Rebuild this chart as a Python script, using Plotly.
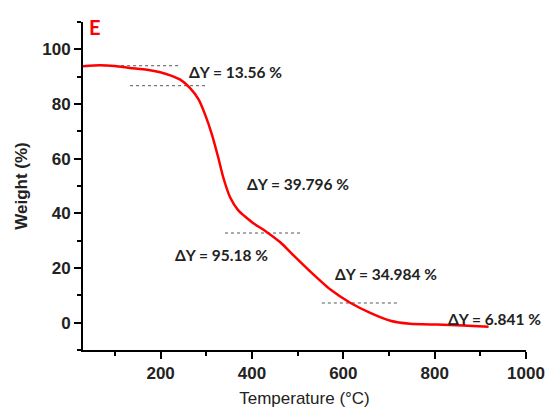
import plotly.graph_objects as go

# TGA curve
temperature = [30, 67, 100, 133, 170, 199, 221, 243, 264, 283, 297, 312, 326, 337, 352, 370, 388, 403, 432, 462, 491, 527, 571, 615, 659, 703, 746, 805, 862, 918]
weight = [93.8, 94.2, 93.9, 93.2, 92.5, 91.6, 90.5, 88.9, 85.9, 81.7, 76.3, 69.0, 60.5, 53.2, 45.9, 41.1, 38.4, 36.4, 33.2, 29.4, 24.6, 18.8, 12.2, 7.3, 3.6, 0.7, -0.4, -0.7, -1.0, -1.5]

# dotted step-reference lines: level, x start, x end
ref_levels = [94.0, 86.7, 32.8, 7.2]
ref_x0 = [74, 133, 341, 553]
ref_x1 = [242, 304, 509, 723]

# step labels
label_texts = ["ΔY = 13.56 %", "ΔY = 39.796 %", "ΔY = 95.18 %", "ΔY = 34.984 %", "ΔY = 6.841 %"]
label_x = [365, 501, 334, 694, 932]
label_y = [91.6, 50.9, 24.7, 17.8, 1.5]

x_ticks = [200, 400, 600, 800, 1000]
y_ticks = [0, 20, 40, 60, 80, 100]

fig = go.Figure()
for lv, a, b in zip(ref_levels, ref_x0, ref_x1):
    fig.add_trace(go.Scatter(x=[a, b], y=[lv, lv], mode="lines",
                             line=dict(color="#555555", width=1, dash="dot"),
                             showlegend=False, hoverinfo="skip"))
fig.add_trace(go.Scatter(x=temperature, y=weight, mode="lines",
                         line=dict(color="#ff0000", width=2.5, shape="spline", smoothing=0.6),
                         showlegend=False))

for t, x, y in zip(label_texts, label_x, label_y):
    fig.add_annotation(x=x, y=y, text="<b>" + t + "</b>", showarrow=False,
                       font=dict(family="Lato", size=15.5, color="#222222"))

fig.add_annotation(xref="paper", yref="paper", x=0.01, y=0.985, xanchor="left", yanchor="middle",
                   text="<b>E</b>", showarrow=False,
                   font=dict(family="Lato", size=20, color="#ff0000"))

axis_common = dict(showline=True, linecolor="black", linewidth=2, ticks="outside",
                   ticklen=7, tickwidth=2, tickcolor="black", showgrid=False, zeroline=False,
                   automargin=False,
                   tickfont=dict(family="Liberation Sans", size=17, color="#222222", weight="bold"))

fig.update_xaxes(range=[30, 1000], tickvals=x_ticks,
                 minor=dict(dtick=100, tick0=0, ticks="outside", ticklen=4, tickwidth=2, tickcolor="black"),
                 title=dict(text="Temperature (°C)", font=dict(family="Liberation Sans", size=17, color="#222222"), standoff=14),
                 **axis_common)
fig.update_yaxes(range=[-10, 110], tickvals=y_ticks,
                 minor=dict(dtick=10, tick0=0, ticks="outside", ticklen=4, tickwidth=2, tickcolor="black"),
                 title=dict(text="<b>Weight (%)</b>", font=dict(family="Liberation Sans", size=17, color="#222222"), standoff=10),
                 **axis_common)

fig.update_layout(width=545, height=408, margin=dict(l=83, r=19, t=22, b=58),
                  plot_bgcolor="white", paper_bgcolor="white")

fig.write_html("out.html")
